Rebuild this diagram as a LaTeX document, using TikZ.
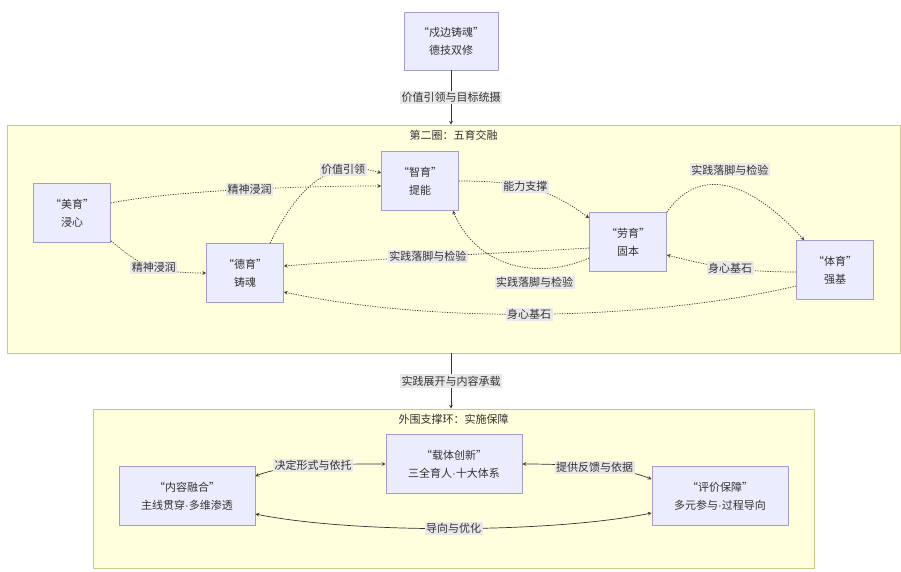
\documentclass[tikz,border=0pt]{standalone}
\usepackage{fontspec}
\setmainfont{Noto Sans CJK SC}
\newfontfamily\latinfont{Liberation Sans}
\newcommand\mdot{{\latinfont ·}}
\definecolor{ink}{HTML}{333333}
\definecolor{boxfill}{HTML}{ECECFF}
\definecolor{boxline}{HTML}{A49CCB}
\definecolor{zonefill}{HTML}{FFFFDE}
\definecolor{zoneline}{HTML}{C8C88A}
\definecolor{labfill}{HTML}{E8E8E8}
\begin{document}
\begin{tikzpicture}[x=1pt,y=-1pt,>=stealth,font=\fontsize{11}{18}\selectfont,text=ink,
	box/.style={draw=boxline,fill=boxfill,line width=.7pt,minimum width=77pt,minimum height=59pt,align=center},
	wide/.style={box,minimum width=136pt},
	zone/.style={draw=zoneline,fill=zonefill,line width=.8pt},
	lab/.style={fill=labfill,inner sep=1.5pt},
	dots/.style={->,ink,line width=.7pt,dash pattern=on 1.2pt off 1.3pt},
	both/.style={<->,ink,line width=.7pt}]
	\useasboundingbox (0,0) rectangle (901,571);
	\node[zone,minimum width=893pt,minimum height=228pt] (wuyu) at (453.5,239) {};
	\node[zone,minimum width=721pt,minimum height=159pt] (baozhang) at (453.5,488.5) {};
	\node[below=2pt] (wuyut) at (wuyu.north) {第二圈：五育交融};
	\node[below=2pt] (baozhangt) at (baozhang.north) {外围支撑环：实施保障};
	\node[box,minimum width=94pt,minimum height=58pt] (zhubian) at (451,41) {“戍边铸魂”\\德技双修};
	\node[box] (meiyu) at (72,213) {“美育”\\浸心};
	\node[box] (deyu) at (245,273) {“德育”\\铸魂};
	\node[box] (zhiyu) at (420,181) {“智育”\\提能};
	\node[box] (laoyu) at (628,242) {“劳育”\\固本};
	\node[box] (tiyu) at (835,270) {“体育”\\强基};
	\node[wide] (zaiti) at (454,464) {“载体创新”\\三全育人\mdot 十大体系};
	\node[wide] (neirong) at (187,496) {“内容融合”\\主线贯穿\mdot 多维渗透};
	\node[wide] (pingjia) at (720,496) {“评价保障”\\多元参与\mdot 过程导向};
	\draw[->,ink,line width=.7pt] (zhubian) -- (zhubian |- wuyu.north) node[lab,midway]{价值引领与目标统摄};
	\draw[->,ink,line width=.7pt] (wuyu.south -| zhubian) -- (baozhang.north -| zhubian) node[lab,midway]{实践展开与内容承载};
	\draw[dots] ([yshift=10pt]meiyu.east) .. controls +(60,-12) and +(-90,0) .. ([yshift=-5pt]zhiyu.west) node[lab,pos=.55]{精神浸润};
	\draw[dots] ([yshift=2pt]meiyu.south east) .. controls +(25,20) and +(-60,0) .. (deyu.west) node[lab,pos=.6]{精神浸润};
	\draw[dots] ([xshift=25pt]deyu.north) .. controls +(30,-60) and +(-50,-15) .. ([yshift=8pt]zhiyu.west) node[lab,pos=.72]{价值引领};
	\draw[dots] (zhiyu.east) .. controls +(60,0) and +(-40,-30) .. ([yshift=-6pt]laoyu.north west) node[lab,pos=.45]{能力支撑};
	\draw[dots] (laoyu.north east) .. controls +(35,-50) and +(-50,-55) .. ([xshift=8pt]tiyu.north west) node[lab,pos=.5,above=10pt]{实践落脚与检验};
	\draw[dots] ([yshift=-2pt]tiyu.west) .. controls +(-60,0) and +(40,10) .. ([yshift=-13pt]laoyu.east) node[lab,pos=.45]{身心基石};
	\draw[dots] ([yshift=-6pt]laoyu.west) .. controls +(-80,5) and +(100,-8) .. ([yshift=7pt]deyu.east) node[lab,pos=.55]{实践落脚与检验};
	\draw[dots] ([yshift=-16pt]laoyu.west) .. controls +(-50,22) and +(25,58) .. ([xshift=-6pt]zhiyu.south east) node[lab,pos=.35,below=7pt]{实践落脚与检验};
	\draw[dots] ([yshift=-16pt]tiyu.west) .. controls +(-150,35) and +(150,32) .. ([yshift=-19pt]deyu.east) node[lab,pos=.52]{身心基石};
	\draw[both] ([yshift=-10pt]neirong.north east) .. controls +(30,-12) and +(-50,0) .. (zaiti.west) node[lab,midway]{决定形式与依托};
	\draw[both] (zaiti.east) .. controls +(50,0) and +(-30,-12) .. ([yshift=-13pt]pingjia.north west) node[lab,midway]{提供反馈与依据};
	\draw[both] ([yshift=-18pt]neirong.east) .. controls +(100,20) and +(-100,20) .. ([yshift=-17pt]pingjia.west) node[lab,midway]{导向与优化};
\end{tikzpicture}
\end{document}
